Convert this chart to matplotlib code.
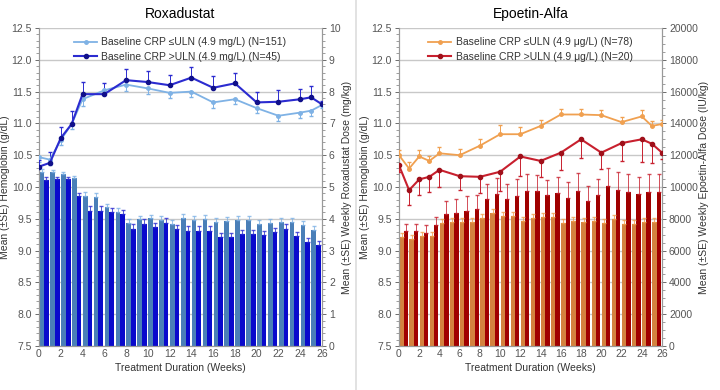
import numpy as np
import matplotlib
matplotlib.use("Agg")
import matplotlib.pyplot as plt

plt.rcParams['font.family'] = ['Liberation Sans', 'DejaVu Sans']

# weeks with hemoglobin measurements
weeks = [0, 1, 2, 3, 4, 6, 8, 10, 12, 14, 16, 18, 20, 22, 24, 25, 26]
# dose bars: one pair per week interval 0..25
dose_weeks = list(range(26))

# Roxadustat - hemoglobin (g/dL)
rox_hb_low = [10.47, 10.43, 10.74, 10.99, 11.38, 11.52, 11.61, 11.55, 11.48,
              11.50, 11.33, 11.38, 11.24, 11.12, 11.17, 11.20, 11.29]
rox_hb_low_se = [0.08, 0.08, 0.08, 0.08, 0.10, 0.08, 0.10, 0.08, 0.08,
                 0.08, 0.08, 0.08, 0.08, 0.08, 0.08, 0.08, 0.05]
rox_hb_high = [10.32, 10.38, 10.77, 10.99, 11.46, 11.46, 11.68, 11.65, 11.60,
               11.72, 11.56, 11.63, 11.33, 11.34, 11.38, 11.41, 11.30]
rox_hb_high_se = [0.10, 0.17, 0.17, 0.20, 0.19, 0.18, 0.18, 0.17, 0.16,
                  0.17, 0.18, 0.17, 0.16, 0.18, 0.16, 0.18, 0.05]

# Roxadustat - weekly dose (mg/kg)
rox_dose_low = [5.48, 5.46, 5.40, 5.27, 4.72, 4.70, 4.36, 4.21, 3.86, 3.98,
                4.01, 3.96, 3.83, 4.03, 3.96, 3.99, 3.91, 3.94, 3.96, 3.96,
                3.83, 3.88, 3.91, 3.91, 3.80, 3.65]
rox_dose_high = [5.22, 5.24, 5.24, 4.72, 4.26, 4.26, 4.21, 4.15, 3.69, 3.84,
                 3.73, 3.88, 3.67, 3.63, 3.62, 3.63, 3.42, 3.42, 3.51, 3.51,
                 3.48, 3.57, 3.69, 3.46, 3.27, 3.17]
rox_dose_low_se = [0.08] * 4 + [0.12] * 22
rox_dose_high_se = [0.08] * 4 + [0.14] * 22

# Epoetin-Alfa - hemoglobin (g/dL)
epo_hb_low = [10.50, 10.29, 10.48, 10.41, 10.53, 10.50, 10.65, 10.83, 10.83,
              10.96, 11.14, 11.14, 11.13, 11.02, 11.11, 10.96, 10.99]
epo_hb_low_se = [0.08, 0.10, 0.10, 0.08, 0.10, 0.10, 0.10, 0.15, 0.12,
                 0.10, 0.09, 0.09, 0.08, 0.08, 0.10, 0.08, 0.06]
epo_hb_high = [10.34, 9.95, 10.12, 10.16, 10.27, 10.17, 10.16, 10.24, 10.48,
               10.41, 10.54, 10.75, 10.54, 10.69, 10.75, 10.68, 10.54]
epo_hb_high_se = [0.10, 0.23, 0.25, 0.24, 0.27, 0.22, 0.25, 0.30, 0.30,
                  0.25, 0.28, 0.30, 0.25, 0.28, 0.35, 0.30, 0.10]

# Epoetin-Alfa - weekly dose (IU/kg)
epo_dose_low = [6840, 6730, 6920, 6920, 7750, 7820, 7820, 7820, 8070, 8340,
                8200, 8200, 7860, 8030, 8130, 8130, 7750, 7880, 7820, 7880,
                7720, 7970, 7670, 7670, 7820, 7820]
epo_dose_high = [7250, 7250, 7130, 7630, 8300, 8380, 8510, 8620, 9220, 9540,
                 9220, 9430, 9770, 9770, 9500, 9600, 9290, 9770, 9120, 9500,
                 10060, 9810, 9700, 9560, 9700, 9700]
epo_dose_low_se = [250] * 26
epo_dose_high_se = [450, 450, 450, 500, 800, 850, 900, 900, 1000, 1050,
                    1000, 1050, 1050, 1000, 950, 1000, 1050, 1100, 950, 1000,
                    1150, 1150, 1100, 1100, 1100, 1100]

TICK_COLOR = "#555555"
LABEL_COLOR = "#333333"


def panel(ax, title, hb_low, hb_low_se, hb_high, hb_high_se,
          dose_low, dose_low_se, dose_high, dose_high_se,
          dose_max, dose_step, dose_label, labels, colors, high_up):
    bar_low, bar_high, line_low, line_high, mk_high = colors
    ax2 = ax.twinx()
    # bars sit on the dose axis, lines on the hemoglobin axis drawn above
    ax.set_zorder(ax2.get_zorder() + 1)
    ax.patch.set_visible(False)

    x = np.array(dose_weeks)
    w = 0.43
    zeros = np.zeros(len(x))
    ax2.bar(x + 0.25, dose_low, w, color=bar_low, zorder=2,
            yerr=[zeros, dose_low_se],
            error_kw=dict(ecolor=line_low, elinewidth=0.7, capsize=1.5, alpha=0.8))
    ax2.bar(x + 0.68, dose_high, w, color=bar_high, zorder=2,
            yerr=[zeros, dose_high_se],
            error_kw=dict(ecolor=line_high, elinewidth=0.7, capsize=1.5, alpha=0.8))
    ax2.set_ylim(0, dose_max)
    ax2.set_yticks(np.arange(0, dose_max + 1, dose_step))
    ax2.yaxis.grid(True, color="#c8c8c8", linewidth=1.0, zorder=0)
    ax2.set_axisbelow(True)
    ax2.set_ylabel(dose_label, fontsize=7.5, color=LABEL_COLOR, labelpad=1)

    nz = np.zeros(len(weeks))
    # whiskers point away from the other line
    low_err = [hb_low_se, nz] if high_up else [nz, hb_low_se]
    high_err = [nz, hb_high_se] if high_up else [hb_high_se, nz]
    ax.errorbar(weeks, hb_low, yerr=low_err, fmt='none', ecolor=line_low,
                capsize=1.5, elinewidth=0.7, zorder=4)
    ax.errorbar(weeks, hb_high, yerr=high_err, fmt='none', ecolor=line_high,
                capsize=1.5, elinewidth=0.7, zorder=4)
    ax.plot(weeks, hb_low, color=line_low, lw=1.3, marker='o', ms=2.5,
            label=labels[0], zorder=5)
    ax.plot(weeks, hb_high, color=line_high, lw=1.5, marker='o', ms=3,
            mfc=mk_high, mec=mk_high, label=labels[1], zorder=6)

    hb_ticks = np.arange(7.5, 12.51, 0.5)
    ax.set_ylim(7.5, 12.5)
    ax.set_yticks(hb_ticks)
    ax.set_yticklabels([f"{v:.1f}" for v in hb_ticks])
    ax.set_xlim(0, 26)
    ax.set_xticks(range(0, 27, 2))
    ax.set_ylabel("Mean (\u00b1SE) Hemoglobin (g/dL)", fontsize=7.5,
                  color=LABEL_COLOR, labelpad=1)
    ax.set_xlabel("Treatment Duration (Weeks)", fontsize=7.5,
                  color=LABEL_COLOR, labelpad=3)
    ax.set_title(title, fontsize=10, pad=7)

    for a in (ax, ax2):
        a.tick_params(labelsize=7.5, colors=TICK_COLOR, length=3, width=0.6,
                      pad=2)
        a.minorticks_on()
        a.tick_params(which='minor', length=2, width=0.5, color="#777777")
        a.xaxis.set_tick_params(which='both', length=0)
        for s in a.spines.values():
            s.set_color("#999999")
            s.set_linewidth(0.8)
        a.spines['top'].set_visible(False)

    leg = ax.legend(loc='upper center', frameon=False, fontsize=7.5,
                    handlelength=2.2, handletextpad=0.4, labelspacing=0.4,
                    borderaxespad=0.5)
    for t in leg.get_texts():
        t.set_color(LABEL_COLOR)


fig = plt.figure(figsize=(7.2, 3.9), dpi=100)
ax_l = fig.add_axes([39 / 720, 44 / 390, 283 / 720, 318 / 390])
ax_r = fig.add_axes([399 / 720, 44 / 390, 263 / 720, 318 / 390])

panel(ax_l, "Roxadustat", rox_hb_low, rox_hb_low_se, rox_hb_high, rox_hb_high_se,
      rox_dose_low, rox_dose_low_se, rox_dose_high, rox_dose_high_se,
      10, 1, "Mean (\u00b1SE) Weekly Roxadustat Dose (mg/kg)",
      ["Baseline CRP \u2264ULN (4.9 mg/L) (N=151)",
       "Baseline CRP >ULN (4.9 mg/L) (N=45)"],
      ("#4a7fb8", "#0a0acc", "#7fb2e5", "#2b2bd0", "#10108a"), True)

panel(ax_r, "Epoetin-Alfa", epo_hb_low, epo_hb_low_se, epo_hb_high, epo_hb_high_se,
      epo_dose_low, epo_dose_low_se, epo_dose_high, epo_dose_high_se,
      20000, 2000, "Mean (\u00b1SE) Weekly Epoetin-Alfa Dose (IU/kg)",
      ["Baseline CRP \u2264ULN (4.9 \u03bcg/L) (N=78)",
       "Baseline CRP >ULN (4.9 \u03bcg/L) (N=20)"],
      ("#d4823f", "#a00000", "#f0a050", "#c8202e", "#a0101a"), False)

fig.add_artist(plt.Line2D([356 / 720, 356 / 720], [0.0, 1.0],
                          color="#dddddd", lw=1.2))

fig.savefig("out.png", dpi=100)
